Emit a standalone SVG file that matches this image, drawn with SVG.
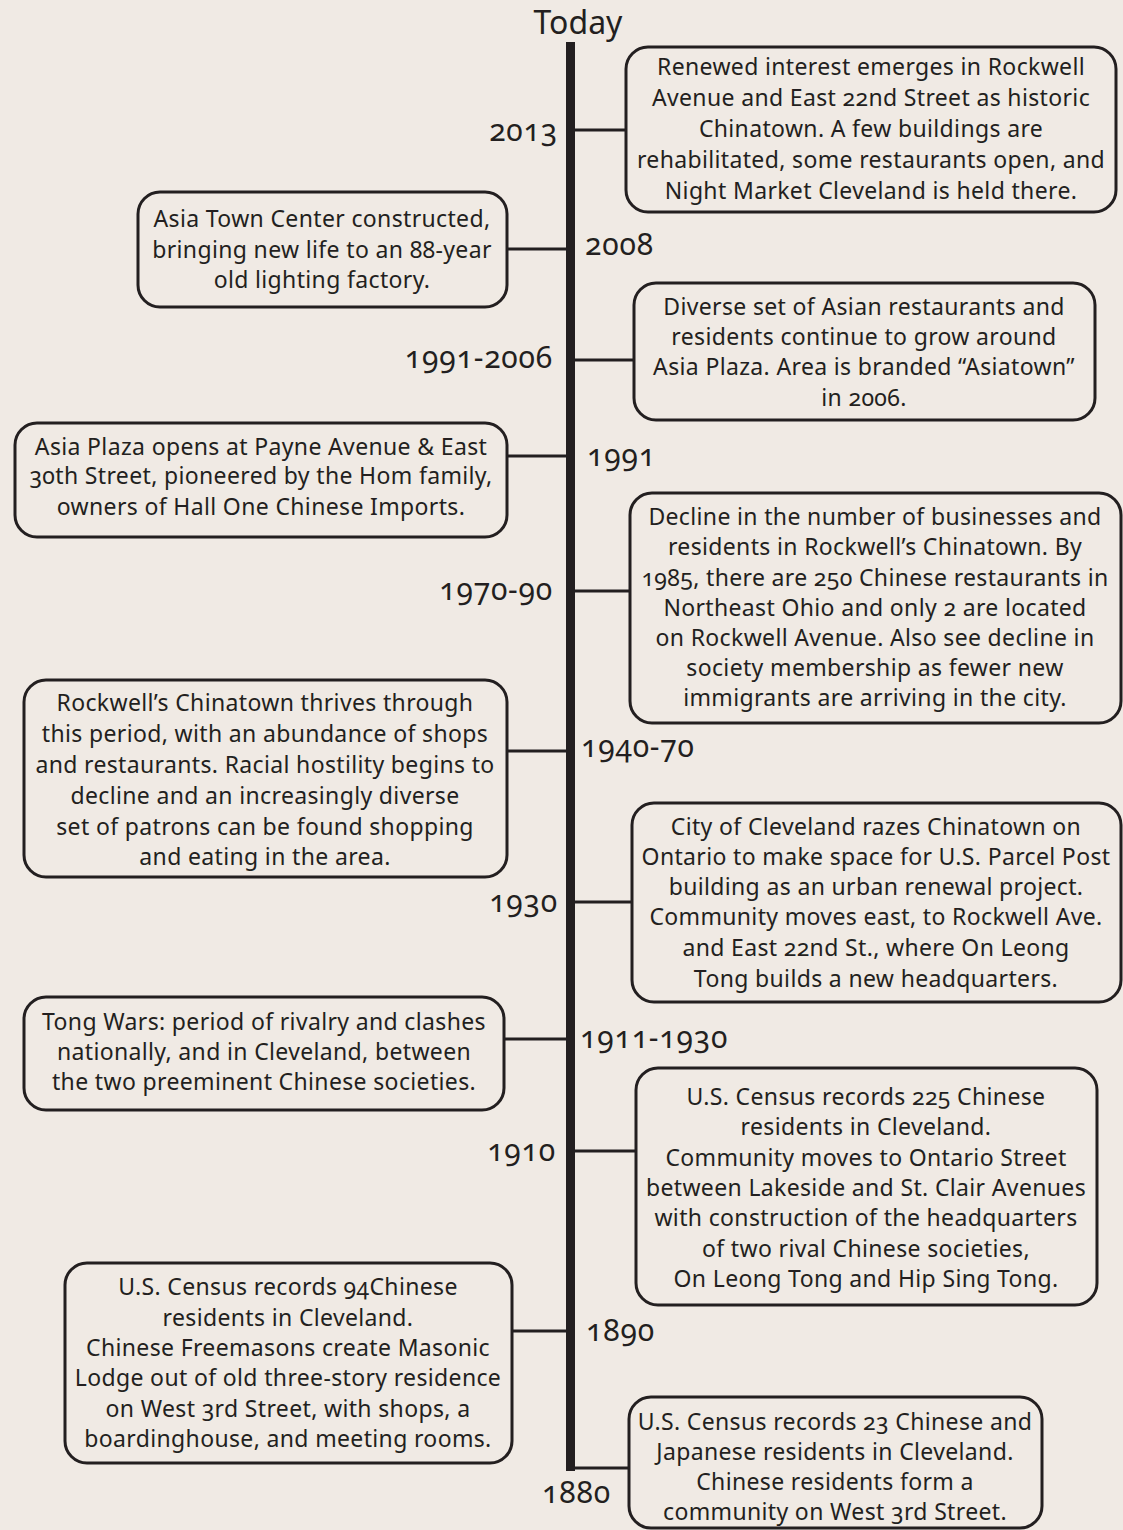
<svg xmlns="http://www.w3.org/2000/svg" width="1123" height="1530" viewBox="0 0 1123 1530">
<style>
.bg{fill:#f0eae4}
.box{fill:#f0eae4;stroke:#231f20;stroke-width:3}
.con{stroke:#231f20;stroke-width:3;fill:none}
.bar{stroke:#231f20;stroke-width:9;fill:none}
text{font-family:"Noto Sans","Open Sans","Liberation Sans",sans-serif;fill:#231f20;font-variant-numeric:oldstyle-nums;font-feature-settings:"onum" 1}
.t{font-size:23px;letter-spacing:0.35px;text-anchor:middle}
.yr{font-size:30px;letter-spacing:0.8px}
.r{text-anchor:end}
.today{font-size:32px;text-anchor:middle}
</style>
<rect class="bg" x="0" y="0" width="1123" height="1530"/>
<text class="today" x="578" y="34">Today</text>
<g id="connectors">
<path class="bar" d="M570.5 42 V1471"/>
<path class="con" d="M570 1468 H629"/>
<path class="con" d="M575 130 H626"/>
<path class="con" d="M507 249 H566"/>
<path class="con" d="M575 360 H634"/>
<path class="con" d="M507 456 H566"/>
<path class="con" d="M575 591 H630"/>
<path class="con" d="M507 751 H566"/>
<path class="con" d="M575 902 H632"/>
<path class="con" d="M504 1039 H566"/>
<path class="con" d="M575 1151 H636"/>
<path class="con" d="M512 1331 H566"/>
</g>
<g id="n2013">
<rect class="box" x="626" y="47" width="490" height="165" rx="22"/>
<text class="yr r" x="558" y="141">2013</text>
<text class="t" x="871"><tspan x="871" y="75">Renewed interest emerges in Rockwell</tspan><tspan x="871" y="106">Avenue and East 22nd Street as historic</tspan><tspan x="871" y="137">Chinatown. A few buildings are</tspan><tspan x="871" y="168">rehabilitated, some restaurants open, and</tspan><tspan x="871" y="199">Night Market Cleveland is held there.</tspan></text>
</g>
<g id="n2008">
<rect class="box" x="138" y="192" width="369" height="115" rx="22"/>
<text class="yr" x="585" y="255">2008</text>
<text class="t" x="322"><tspan x="322" y="227">Asia Town Center constructed,</tspan><tspan x="322" y="258">bringing new life to an 88-year</tspan><tspan x="322" y="288">old lighting factory.</tspan></text>
</g>
<g id="n1991-2006">
<rect class="box" x="634" y="283" width="461" height="137" rx="22"/>
<text class="yr r" x="553" y="368">1991-2006</text>
<text class="t" x="864"><tspan x="864" y="315">Diverse set of Asian restaurants and</tspan><tspan x="864" y="345">residents continue to grow around</tspan><tspan x="864" y="375">Asia Plaza. Area is branded “Asiatown”</tspan><tspan x="864" y="406">in 2006.</tspan></text>
</g>
<g id="n1991">
<rect class="box" x="15" y="423" width="492" height="114" rx="22"/>
<text class="yr" x="587" y="466">1991</text>
<text class="t" x="261"><tspan x="261" y="455">Asia Plaza opens at Payne Avenue &amp; East</tspan><tspan x="261" y="484">30th Street, pioneered by the Hom family,</tspan><tspan x="261" y="515">owners of Hall One Chinese Imports.</tspan></text>
</g>
<g id="n1970-90">
<rect class="box" x="630" y="493" width="491" height="230" rx="22"/>
<text class="yr r" x="553" y="600">1970-90</text>
<text class="t" x="875"><tspan x="875" y="525">Decline in the number of businesses and</tspan><tspan x="875" y="555">residents in Rockwell’s Chinatown. By</tspan><tspan x="875" y="586">1985, there are 250 Chinese restaurants in</tspan><tspan x="875" y="616">Northeast Ohio and only 2 are located</tspan><tspan x="875" y="646">on Rockwell Avenue. Also see decline in</tspan><tspan x="875" y="676">society membership as fewer new</tspan><tspan x="875" y="706">immigrants are arriving in the city.</tspan></text>
</g>
<g id="n1940-70">
<rect class="box" x="24" y="680" width="483" height="197" rx="22"/>
<text class="yr" x="581" y="757">1940-70</text>
<text class="t" x="265"><tspan x="265" y="711">Rockwell’s Chinatown thrives through</tspan><tspan x="265" y="742">this period, with an abundance of shops</tspan><tspan x="265" y="773">and restaurants. Racial hostility begins to</tspan><tspan x="265" y="804">decline and an increasingly diverse</tspan><tspan x="265" y="835">set of patrons can be found shopping</tspan><tspan x="265" y="865">and eating in the area.</tspan></text>
</g>
<g id="n1930">
<rect class="box" x="632" y="803" width="489" height="199" rx="22"/>
<text class="yr r" x="558" y="912">1930</text>
<text class="t" x="876"><tspan x="876" y="835">City of Cleveland razes Chinatown on</tspan><tspan x="876" y="865">Ontario to make space for U.S. Parcel Post</tspan><tspan x="876" y="895">building as an urban renewal project.</tspan><tspan x="876" y="925">Community moves east, to Rockwell Ave.</tspan><tspan x="876" y="956">and East 22nd St., where On Leong</tspan><tspan x="876" y="987">Tong builds a new headquarters.</tspan></text>
</g>
<g id="n1911-1930">
<rect class="box" x="24" y="997" width="480" height="113" rx="22"/>
<text class="yr" x="580" y="1048">1911-1930</text>
<text class="t" x="264"><tspan x="264" y="1030">Tong Wars: period of rivalry and clashes</tspan><tspan x="264" y="1060">nationally, and in Cleveland, between</tspan><tspan x="264" y="1090">the two preeminent Chinese societies.</tspan></text>
</g>
<g id="n1910">
<rect class="box" x="636" y="1068" width="461" height="237" rx="22"/>
<text class="yr r" x="556" y="1161">1910</text>
<text class="t" x="866"><tspan x="866" y="1105">U.S. Census records 225 Chinese</tspan><tspan x="866" y="1135">residents in Cleveland.</tspan><tspan x="866" y="1166">Community moves to Ontario Street</tspan><tspan x="866" y="1196">between Lakeside and St. Clair Avenues</tspan><tspan x="866" y="1226">with construction of the headquarters</tspan><tspan x="866" y="1257">of two rival Chinese societies,</tspan><tspan x="866" y="1287">On Leong Tong and Hip Sing Tong.</tspan></text>
</g>
<g id="n1890">
<rect class="box" x="65" y="1263" width="447" height="200" rx="22"/>
<text class="yr" x="586" y="1341">1890</text>
<text class="t" x="288"><tspan x="288" y="1295">U.S. Census records 94Chinese</tspan><tspan x="288" y="1326">residents in Cleveland.</tspan><tspan x="288" y="1356">Chinese Freemasons create Masonic</tspan><tspan x="288" y="1386">Lodge out of old three-story residence</tspan><tspan x="288" y="1417">on West 3rd Street, with shops, a</tspan><tspan x="288" y="1447">boardinghouse, and meeting rooms.</tspan></text>
</g>
<g id="n1880">
<rect class="box" x="629" y="1397" width="413" height="131" rx="22"/>
<text class="yr" x="542" y="1503">1880</text>
<text class="t" x="835"><tspan x="835" y="1430">U.S. Census records 23 Chinese and</tspan><tspan x="835" y="1460">Japanese residents in Cleveland.</tspan><tspan x="835" y="1490">Chinese residents form a</tspan><tspan x="835" y="1520">community on West 3rd Street.</tspan></text>
</g>
</svg>
